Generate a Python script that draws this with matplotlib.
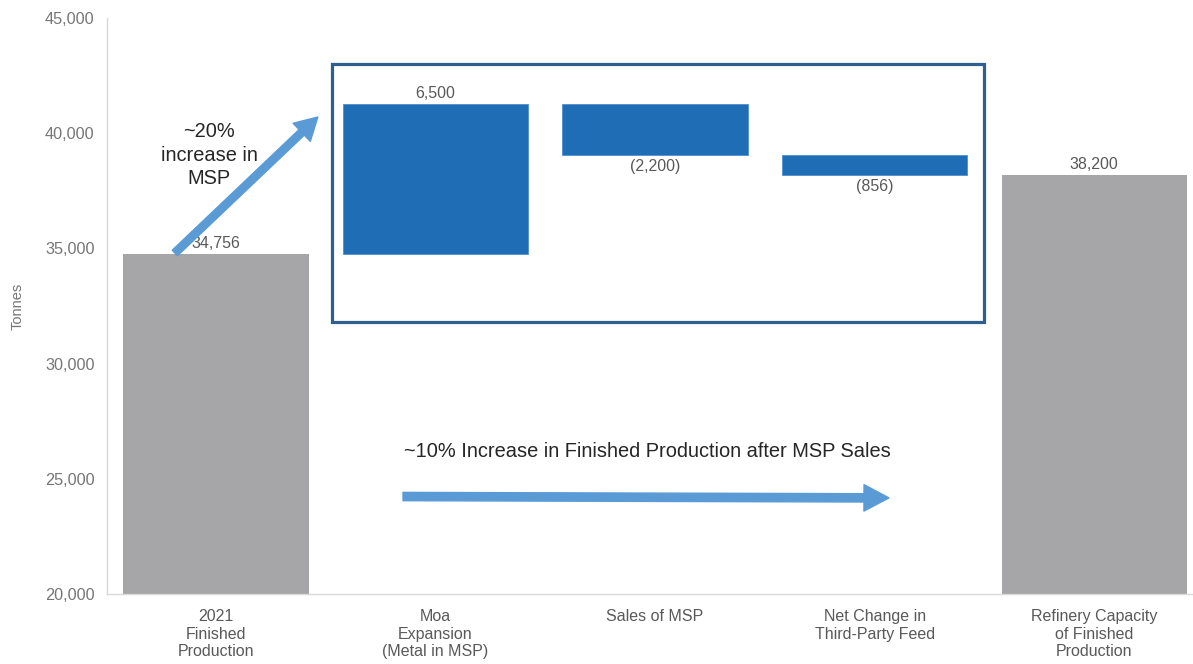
import matplotlib
matplotlib.use("Agg")
import matplotlib.pyplot as plt
from matplotlib.patches import Rectangle, FancyArrowPatch
import numpy as np

# Waterfall data (tonnes)
categories = ["2021\nFinished\nProduction", "Moa\nExpansion\n(Metal in MSP)",
              "Sales of MSP", "Net Change in\nThird-Party Feed",
              "Refinery Capacity\nof Finished\nProduction"]
values = [34756, 6500, -2200, -856, 38200]
is_total = [True, False, False, False, True]
value_labels = ["34,756", "6,500", "(2,200)", "(856)", "38,200"]
y_ticks = [20000, 25000, 30000, 35000, 40000, 45000]

GRAY = "#A6A6A8"
BLUE = "#1F6DB4"
ARROW = "#5B9BD5"
BOX = "#2E5F8E"
TICK = "#767676"
LABEL = "#595959"

plt.rcParams["font.family"] = ["Liberation Sans", "DejaVu Sans"]

fig = plt.figure(figsize=(11.93, 6.64), dpi=100)
ax = fig.add_axes([0.0897, 0.1054, 0.9093, 0.8676])

x = np.arange(len(values))
bottoms, heights = [], []
running = 0
for v, tot in zip(values, is_total):
    if tot:
        bottoms.append(0)
        heights.append(v)
        running = v
    else:
        if v >= 0:
            bottoms.append(running)
            heights.append(v)
        else:
            bottoms.append(running + v)
            heights.append(-v)
        running += v

colors = [GRAY if t else BLUE for t in is_total]
ax.bar(x, heights, bottom=bottoms, width=0.845, color=colors,
       edgecolor=["none" if t else "#4F8FD0" for t in is_total],
       linewidth=0.6, zorder=2)

# Value labels: above rising bars, below falling bars
for xi, v, b, h, lab in zip(x, values, bottoms, heights, value_labels):
    if v >= 0:
        ax.annotate(lab, (xi, b + h), xytext=(0, 2), textcoords="offset points",
                    ha="center", va="bottom", fontsize=11.5, color=LABEL)
    else:
        ax.annotate(lab, (xi, b), xytext=(0, -3), textcoords="offset points",
                    ha="center", va="top", fontsize=11.5, color=LABEL)

ax.set_xlim(-0.496, 4.444)
ax.set_ylim(20000, 45000)
ax.set_yticks(y_ticks)
ax.set_yticklabels([f"{t:,}" for t in y_ticks])
ax.set_xticks(x)
ax.set_xticklabels(categories, linespacing=1.2)
ax.tick_params(axis="y", length=0, pad=9, labelsize=11.7, labelcolor=TICK)
ax.tick_params(axis="x", length=0, pad=11, labelsize=11.5, labelcolor=LABEL)
ax.set_ylabel("Tonnes", fontsize=10.5, color=TICK)
ax.yaxis.set_label_coords(-0.076, 0.5)

for side in ("top", "right"):
    ax.spines[side].set_visible(False)
for side in ("left", "bottom"):
    ax.spines[side].set_color("#D9D9D9")
    ax.spines[side].set_linewidth(1.0)

# Frame around the incremental changes
ax.add_patch(Rectangle((0.528, 31800), 3.497 - 0.528, 43000 - 31800,
                       fill=False, edgecolor=BOX, linewidth=2.3, zorder=3))

# Arrow showing the MSP increase
ax.add_patch(FancyArrowPatch((-0.187, 34800), (0.464, 40700),
                             arrowstyle="simple,head_width=1.8,head_length=1.6,tail_width=0.55",
                             mutation_scale=10, color=ARROW, shrinkA=0, shrinkB=0, zorder=4))
ax.text(-0.03, 39050, "~20%\nincrease in\nMSP", ha="center", va="center",
        fontsize=14.4, color="#262626", linespacing=1.3)

# Arrow showing the overall finished production increase
ax.add_patch(FancyArrowPatch((0.852, 24230), (3.065, 24170),
                             arrowstyle="simple,head_width=1.9,head_length=1.8,tail_width=0.6",
                             mutation_scale=10, color=ARROW, shrinkA=0, shrinkB=0, zorder=4))
ax.text(1.963, 26200, "~10% Increase in Finished Production after MSP Sales",
        ha="center", va="center", fontsize=14.4, color="#262626")

fig.savefig("out.png", dpi=100, facecolor="white")
